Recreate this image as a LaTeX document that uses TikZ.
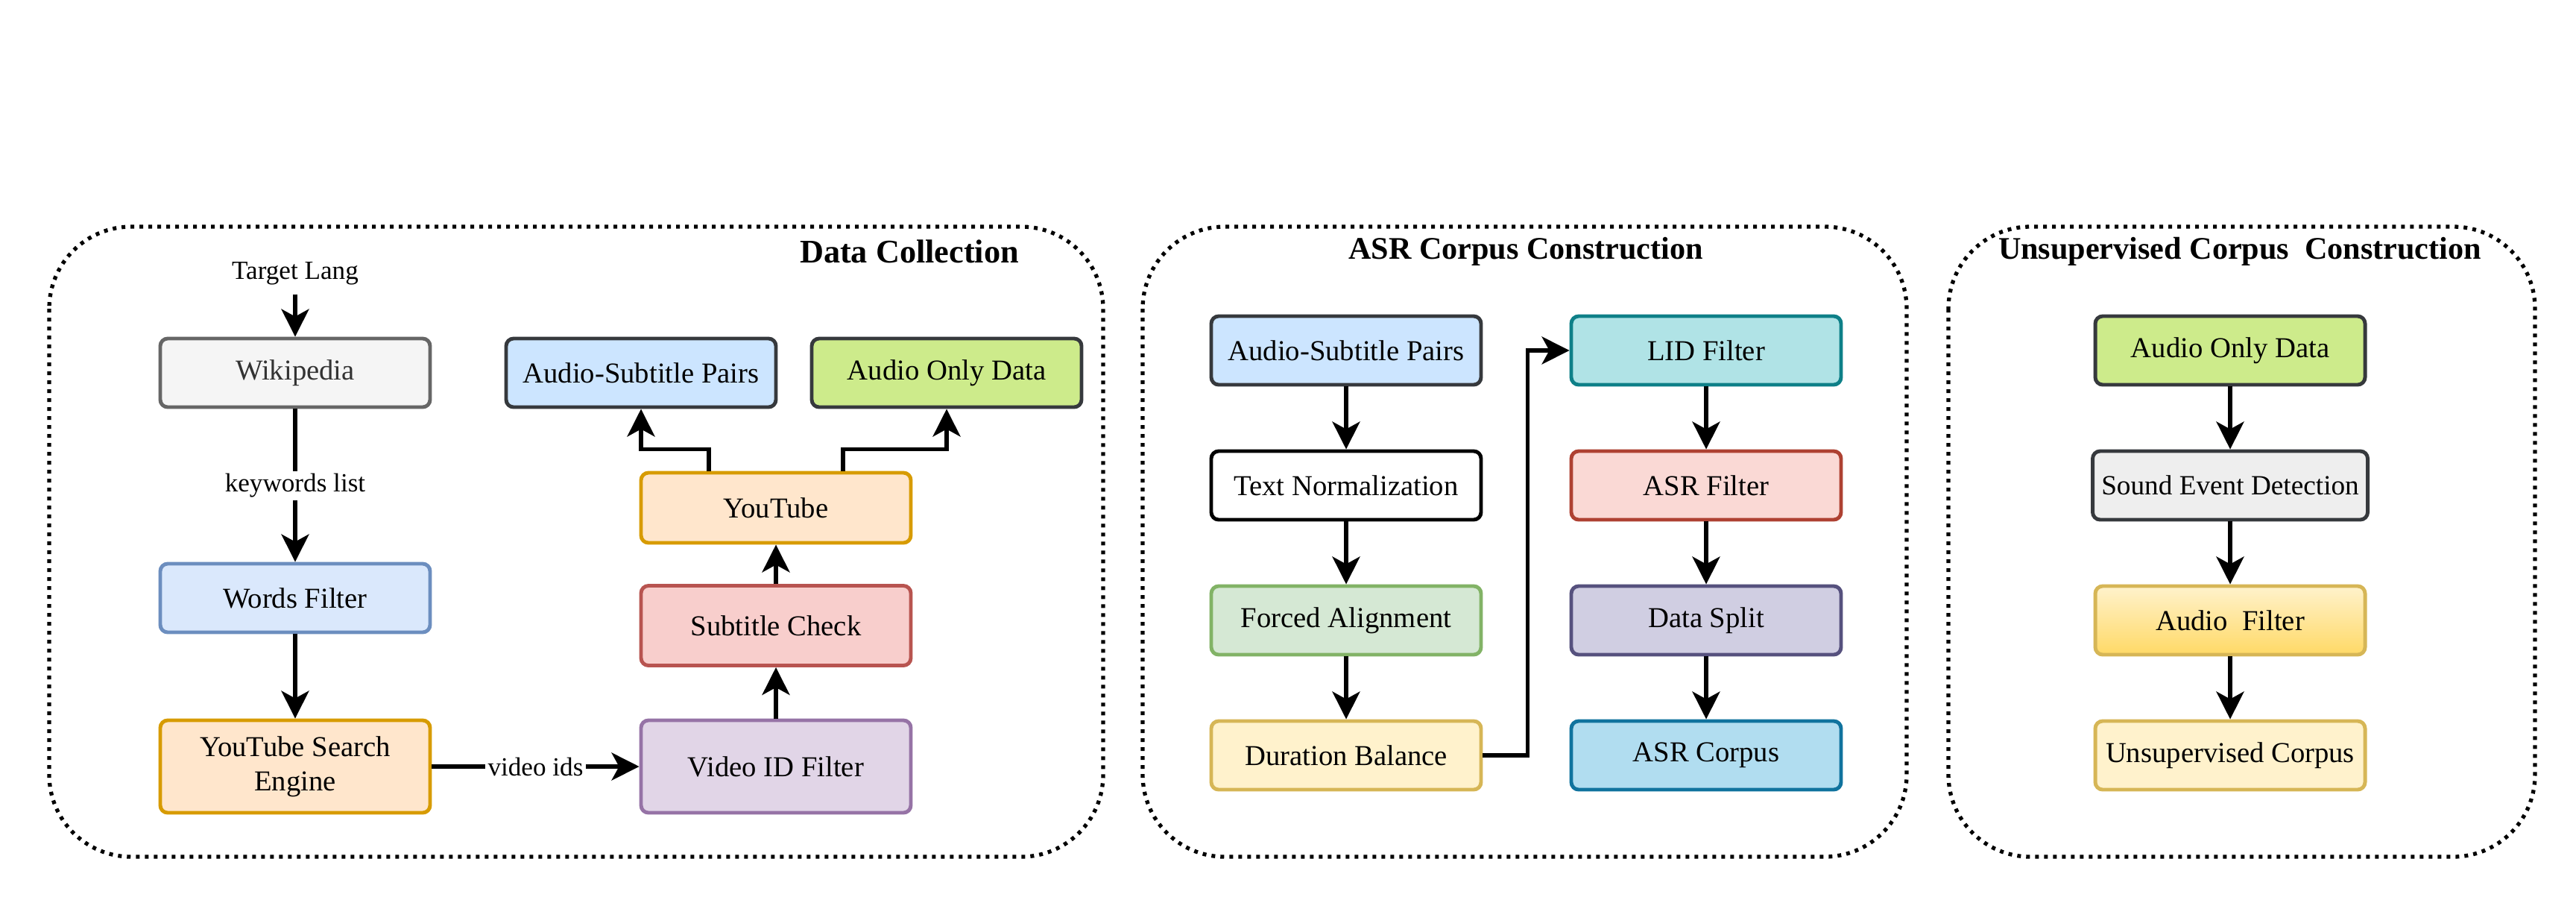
\documentclass[tikz,border=0pt]{standalone}
\usepackage{fontspec}
\setmainfont{Liberation Serif}
\usetikzlibrary{arrows.meta}

\definecolor{wikiF}{HTML}{F5F5F5}\definecolor{wikiD}{HTML}{666666}\definecolor{wikiT}{HTML}{333333}
\definecolor{blueF}{HTML}{DAE8FC}\definecolor{blueD}{HTML}{6C8EBF}
\definecolor{orF}{HTML}{FFE6CC}\definecolor{orD}{HTML}{D79B00}
\definecolor{purF}{HTML}{E1D5E7}\definecolor{purD}{HTML}{9673A6}
\definecolor{redF}{HTML}{F8CECC}\definecolor{redD}{HTML}{B85450}
\definecolor{skyF}{HTML}{CCE5FF}\definecolor{darkD}{HTML}{36393D}
\definecolor{limeF}{HTML}{CDEB8B}
\definecolor{grnF}{HTML}{D5E8D4}\definecolor{grnD}{HTML}{82B366}
\definecolor{yelF}{HTML}{FFF2CC}\definecolor{yelD}{HTML}{D6B656}\definecolor{yelB}{HTML}{FFD966}
\definecolor{tealF}{HTML}{B0E3E6}\definecolor{tealD}{HTML}{0E8088}
\definecolor{rosF}{HTML}{FAD9D5}\definecolor{rosD}{HTML}{AE4132}
\definecolor{lavF}{HTML}{D0CEE2}\definecolor{lavD}{HTML}{56517E}
\definecolor{cyaF}{HTML}{B1DDF0}\definecolor{cyaD}{HTML}{10739E}
\definecolor{greyF}{HTML}{EEEEEE}

\tikzset{
  blk/.style={draw, rounded corners=0.1cm, line width=1.4pt, minimum width=3.62cm,
    minimum height=0.92cm, align=center, font=\fontsize{11}{13}\selectfont},
  arr/.style={-{Stealth[length=0.37cm,width=0.37cm,inset=0.1cm]}, line width=1.5pt},
  frame/.style={draw, rounded corners=1.1cm, line width=1.5pt, dash pattern=on 0.05cm off 0.07cm},
  ttl/.style={font=\fontsize{12}{14}\selectfont\bfseries},
  lbl/.style={font=\fontsize{10}{12}\selectfont, fill=white, inner sep=1pt}
}

\begin{document}
\begin{tikzpicture}
      \useasboundingbox (0,0) rectangle (34.56,-12.06);

      % frames
      \draw[frame] (0.66,-3.04) rectangle (14.80,-11.49);
      \draw[frame] (15.33,-3.04) rectangle (25.58,-11.49);
      \draw[frame] (26.14,-3.04) rectangle (34.01,-11.49);

      \node (t1) at (12.20,-3.37) [ttl, font=\fontsize{12.6}{14}\selectfont\bfseries]{Data Collection};
      \node (t2) at (20.47,-3.37) [ttl]{ASR Corpus Construction};
      \node (t3) at (30.05,-3.37) [ttl]{Unsupervised Corpus\ \ Construction};

      % data collection
      \node (tl) at (3.96,-3.67) [font=\fontsize{10}{12}\selectfont]{Target Lang};
      \node (wiki) at (3.96,-5.00) [blk, fill=wikiF, draw=wikiD, text=wikiT]{Wikipedia};
      \node (words) at (3.96,-8.02) [blk, fill=blueF, draw=blueD]{Words Filter};
      \node (yse) at (3.96,-10.28) [blk, fill=orF, draw=orD, minimum height=1.24cm]{YouTube Search\\Engine};
      \node (vid) at (10.41,-10.28) [blk, fill=purF, draw=purD, minimum height=1.24cm]{Video ID Filter};
      \node (sub) at (10.41,-8.39) [blk, fill=redF, draw=redD, minimum height=1.07cm]{Subtitle Check};
      \node (yt) at (10.41,-6.81) [blk, fill=orF, draw=orD, minimum height=0.94cm]{YouTube};
      \node (asp) at (8.60,-5.00) [blk, fill=skyF, draw=darkD]{Audio-Subtitle Pairs};
      \node (aod) at (12.70,-5.00) [blk, fill=limeF, draw=darkD]{Audio Only Data};

      \draw[arr] (tl) -- (wiki);
      \draw[arr] (wiki) -- node[lbl]{keywords list} (words);
      \draw[arr] (words) -- (yse);
      \draw[arr] (yse) -- node[lbl]{video ids} (vid);
      \draw[arr] (vid) -- (sub);
      \draw[arr] (sub) -- (yt);
      \draw[arr] ([xshift=-0.9cm]yt.north) -- ++(0,0.29) -| (asp.south);
      \draw[arr] ([xshift=0.9cm]yt.north) -- ++(0,0.29) -| (aod.south);

      % asr corpus
      \node (asp2) at (18.06,-4.70) [blk, fill=skyF, draw=darkD]{Audio-Subtitle Pairs};
      \node (tn) at (18.06,-6.51) [blk, fill=white, draw=black]{Text Normalization};
      \node (fa) at (18.06,-8.32) [blk, fill=grnF, draw=grnD]{Forced Alignment};
      \node (db) at (18.06,-10.13) [blk, fill=yelF, draw=yelD]{Duration Balance};
      \node (lid) at (22.89,-4.70) [blk, fill=tealF, draw=tealD]{LID Filter};
      \node (asrf) at (22.89,-6.51) [blk, fill=rosF, draw=rosD]{ASR Filter};
      \node (ds) at (22.89,-8.32) [blk, fill=lavF, draw=lavD]{Data Split};
      \node (ac) at (22.89,-10.13) [blk, fill=cyaF, draw=cyaD]{ASR Corpus};

      \foreach \a/\b in {asp2/tn, tn/fa, fa/db, lid/asrf, asrf/ds, ds/ac}
          \draw[arr] (\a) -- (\b);
      \draw[arr] (db.east) -- ++(0.6,0) |- (lid.west);

      % unsupervised corpus
      \node (aod2) at (29.92,-4.70) [blk, fill=limeF, draw=darkD]{Audio Only Data};
      \node (sed) at (29.92,-6.51) [blk, fill=greyF, draw=darkD, font=\fontsize{10.6}{13}\selectfont]{Sound Event Detection};
      \node (af) at (29.92,-8.32) [blk, top color=yelF, bottom color=yelB, draw=yelD]{Audio\ \ Filter};
      \node (uc) at (29.92,-10.13) [blk, fill=yelF, draw=yelD]{Unsupervised Corpus};

      \foreach \a/\b in {aod2/sed, sed/af, af/uc}
          \draw[arr] (\a) -- (\b);
\end{tikzpicture}
\end{document}
